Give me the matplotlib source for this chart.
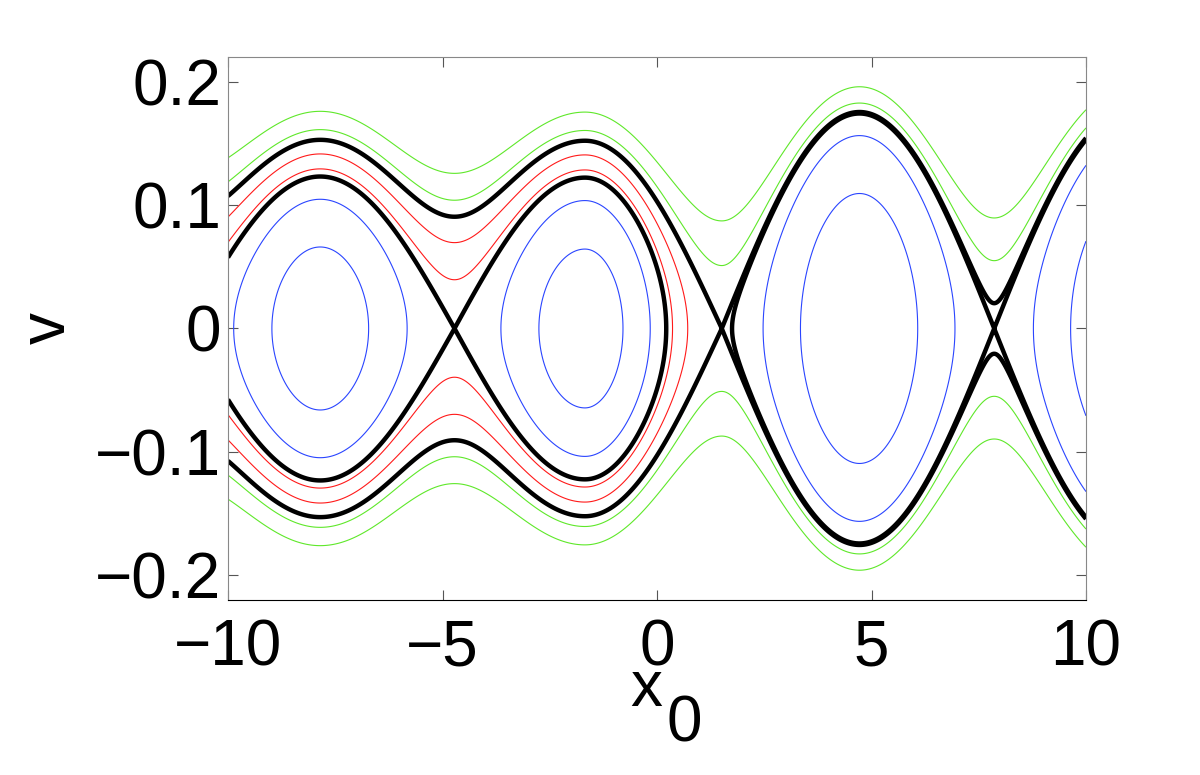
import numpy as np
import matplotlib

matplotlib.use("Agg")
import matplotlib.pyplot as plt

# extrema of the potential U(x) (position, value)
EXT_X = [-11.0, -7.85, -4.72, -1.68, 1.51, 4.72, 7.86, 11.0]
EXT_U = [-0.0040, -0.01168, -0.00410, -0.01157, 0.0, -0.01538, -0.00021, -0.0154]

X_SPLIT = 1.51  # saddle between the left and right families of orbits

# energy levels H = v^2/2 + U(x) of the drawn orbits
GREEN_LEVELS = [0.0013, 0.0038]
RED_LEVELS = [-0.00332, -0.00168]
BLUE_LEFT_LEVELS = [-0.0095, -0.0062]
BLUE_RIGHT_LEVELS = [-0.0094, -0.00317]
BLACK_ALL_LEVELS = [0.0]
BLACK_LEFT_LEVELS = [-0.00410]
BLACK_RIGHT_LEVELS = [-0.00021]

X_TICKS = [-10, -5, 0, 5, 10]
Y_TICKS = [-0.2, -0.1, 0, 0.1, 0.2]

GREEN = "#5fe82a"
RED = "#ff1a1a"
BLUE = "#2a45ff"


def potential(x):
    ex = np.array(EXT_X)
    eu = np.array(EXT_U)
    i = np.clip(np.searchsorted(ex, x) - 1, 0, len(ex) - 2)
    t = (x - ex[i]) / (ex[i + 1] - ex[i])
    return eu[i] + (eu[i + 1] - eu[i]) * (1 - np.cos(np.pi * t)) / 2


def main():
    plt.rcParams["font.family"] = ["Liberation Sans", "DejaVu Sans"]
    fig = plt.figure(figsize=(12, 7.75), dpi=100)
    ax = fig.add_axes([0.19, 0.2258, 0.715, 0.7007])

    x = np.linspace(-10, 10, 2001)
    v = np.linspace(-0.23, 0.23, 1400)
    X, V = np.meshgrid(x, v)
    H = V ** 2 / 2 + potential(X)

    left = x <= X_SPLIT + 1e-9
    right = x >= X_SPLIT - 1e-9

    def draw(mask, levels, color, lw):
        ax.contour(X[:, mask], V[:, mask], H[:, mask], levels=levels,
                   colors=color, linewidths=lw, linestyles="solid")

    draw(slice(None), GREEN_LEVELS, GREEN, 0.8)
    draw(left, RED_LEVELS, RED, 0.8)
    draw(left, BLUE_LEFT_LEVELS, BLUE, 0.8)
    draw(right, BLUE_RIGHT_LEVELS, BLUE, 0.8)
    draw(slice(None), BLACK_ALL_LEVELS, "black", 3.2)
    draw(left, BLACK_LEFT_LEVELS, "black", 3.2)
    draw(right, BLACK_RIGHT_LEVELS, "black", 3.2)

    ax.set_xlim(-10, 10)
    ax.set_ylim(-0.22, 0.22)
    ax.set_xticks(X_TICKS)
    ax.set_yticks(Y_TICKS)
    ax.set_yticklabels(["\u22120.2", "\u22120.1", "0", "0.1", "0.2"])
    ax.tick_params(direction="in", length=7, width=0.8, color="#555555",
                   top=True, right=True, labelsize=46)
    ax.tick_params(axis="x", pad=13)
    ax.tick_params(axis="y", pad=5)
    for side in ("left", "top", "right"):
        ax.spines[side].set_color("#888888")
    ax.spines["bottom"].set_color("black")

    # x label with a full-size, dropped subscript as in the original
    fig.text(0.5392, 0.0890, r"$\mathregular{x}$", fontsize=46,
             ha="center", va="baseline")
    fig.text(0.5692, 0.0440, r"$\mathregular{0}$", fontsize=46,
             ha="center", va="baseline")
    ax.set_ylabel("v", fontsize=46, labelpad=12)

    fig.savefig("out.png", dpi=100)


if __name__ == "__main__":
    main()
